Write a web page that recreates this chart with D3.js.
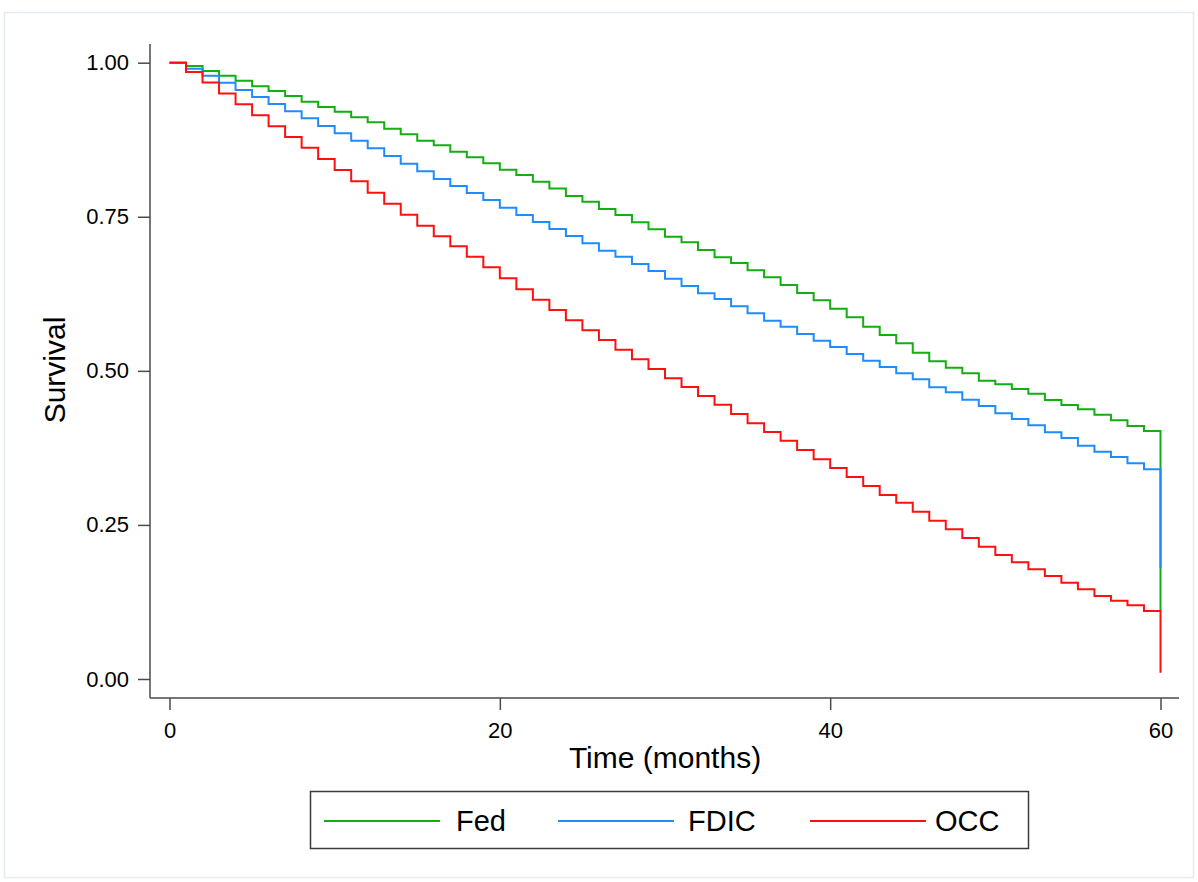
<!DOCTYPE html>
<html>
<head>
<meta charset="utf-8">
<script src="https://cdn.jsdelivr.net/npm/d3@7"></script>
<style>
  html, body { margin: 0; padding: 0; background: #ffffff; }
  svg { display: block; font-family: "Liberation Sans", Arial, sans-serif; }
</style>
</head>
<body>
<svg id="chart" width="1198" height="882"></svg>
<script>
// Kaplan-Meier survival estimates by regulator, one value per month (0..60)
const months = d3.range(0, 61);

const fedSurvival = [
  1.0, 0.9946, 0.9865, 0.979, 0.9708, 0.9617, 0.954, 0.946, 0.9367, 0.928,
  0.9205, 0.9114, 0.9033, 0.893, 0.8838, 0.8735, 0.866, 0.8556, 0.8465, 0.8368,
  0.8264, 0.8178, 0.807, 0.796, 0.7837, 0.7745, 0.7626, 0.7529, 0.741, 0.7297,
  0.7177, 0.7086, 0.6961, 0.6842, 0.675, 0.6631, 0.6518, 0.6393, 0.6263, 0.6144,
  0.6008, 0.5868, 0.5717, 0.558, 0.5447, 0.5295, 0.5155, 0.5051, 0.496, 0.484,
  0.4782, 0.4705, 0.463, 0.4527, 0.4446, 0.4376, 0.4289, 0.4198, 0.4105, 0.4024,
  0.11
];

const fdicSurvival = [
  1.0, 0.9903, 0.979, 0.9676, 0.9557, 0.9443, 0.933, 0.9211, 0.9098, 0.8973,
  0.8854, 0.8735, 0.861, 0.8486, 0.8361, 0.8238, 0.8113, 0.80, 0.7886, 0.7772,
  0.7648, 0.7529, 0.7415, 0.7302, 0.7188, 0.707, 0.695, 0.6852, 0.6732, 0.662,
  0.6495, 0.6377, 0.6258, 0.6166, 0.6047, 0.5934, 0.5814, 0.5717, 0.5598, 0.549,
  0.5387, 0.5274, 0.5165, 0.5063, 0.496, 0.4863, 0.4733, 0.4652, 0.4532, 0.443,
  0.4311, 0.4219, 0.4116, 0.4003, 0.391, 0.3786, 0.3688, 0.3602, 0.35, 0.3403,
  0.18
];

const occSurvival = [
  1.0, 0.985, 0.968, 0.950, 0.9325, 0.9146, 0.897, 0.8794, 0.862, 0.8437,
  0.826, 0.8076, 0.789, 0.771, 0.7534, 0.7355, 0.7183, 0.7021, 0.6852, 0.668,
  0.6502, 0.6323, 0.6155, 0.5987, 0.582, 0.5658, 0.55, 0.5343, 0.519, 0.503,
  0.4879, 0.4738, 0.4592, 0.4451, 0.43, 0.4149, 0.4008, 0.3867, 0.3716, 0.3565,
  0.3424, 0.3278, 0.313, 0.2986, 0.2861, 0.2715, 0.2569, 0.2429, 0.2288, 0.2147,
  0.2012, 0.1893, 0.178, 0.1671, 0.1563, 0.1455, 0.1347, 0.127, 0.1196, 0.1103,
  0.01
];

const seriesNames = ["Fed", "FDIC", "OCC"];
const seriesColors = ["#12ae12", "#1e8cff", "#ff1010"];
const xTicks = [0, 20, 40, 60];
const yTicks = [0, 0.25, 0.5, 0.75, 1.0];

const series = [fedSurvival, fdicSurvival, occSurvival].map((vals, i) => ({
  name: seriesNames[i],
  color: seriesColors[i],
  points: months.map((m, j) => ({ t: m, s: vals[j] }))
}));

const svg = d3.select("#chart");

// outer graph region frame
svg.append("rect")
  .attr("x", 4.5).attr("y", 12.5)
  .attr("width", 1189).attr("height", 865)
  .attr("fill", "#ffffff")
  .attr("stroke", "#e3ebee").attr("stroke-width", 1.5);

// plot region bounds (axis lines) and the scales inside them
const plot = { left: 150, right: 1179, top: 44, bottom: 698 };
const x = d3.scaleLinear().domain([0, 60]).range([169.5, 1160.5]);
const y = d3.scaleLinear().domain([0, 1]).range([679, 62.7]);

const axisColor = "#4a4a4a";
const fontStack = '"Liberation Sans", Arial, sans-serif';

// y axis
const gy = svg.append("g")
  .attr("transform", `translate(${plot.left},0)`)
  .call(d3.axisLeft(y).tickValues(yTicks).tickFormat(d3.format(".2f"))
    .tickSize(12).tickPadding(9));
gy.select(".domain").remove();
gy.selectAll(".tick line").attr("stroke", axisColor).attr("stroke-width", 1.5);
gy.selectAll(".tick text")
  .attr("fill", "#000").style("font-size", "22px")
  .style("font-family", fontStack);

// x axis
const gx = svg.append("g")
  .attr("transform", `translate(0,${plot.bottom})`)
  .call(d3.axisBottom(x).tickValues(xTicks).tickFormat(d3.format("d"))
    .tickSize(12).tickPadding(12));
gx.select(".domain").remove();
gx.selectAll(".tick line").attr("stroke", axisColor).attr("stroke-width", 1.5);
gx.selectAll(".tick text")
  .attr("fill", "#000").style("font-size", "22px")
  .style("font-family", fontStack);

// axis lines
svg.append("line")
  .attr("x1", plot.left).attr("x2", plot.left)
  .attr("y1", plot.top).attr("y2", plot.bottom)
  .attr("stroke", axisColor).attr("stroke-width", 1.5);
svg.append("line")
  .attr("x1", plot.left).attr("x2", plot.right)
  .attr("y1", plot.bottom).attr("y2", plot.bottom)
  .attr("stroke", axisColor).attr("stroke-width", 1.5);

// survival step curves
const line = d3.line()
  .x(d => x(d.t))
  .y(d => y(d.s))
  .curve(d3.curveStepAfter);

svg.append("g").selectAll("path")
  .data(series)
  .join("path")
  .attr("d", d => line(d.points))
  .attr("fill", "none")
  .attr("stroke", d => d.color)
  .attr("stroke-width", 2);

// axis titles
svg.append("text")
  .attr("x", 665).attr("y", 768)
  .attr("text-anchor", "middle")
  .style("font-size", "30px")
  .text("Time (months)");

svg.append("text")
  .attr("transform", "translate(65,370) rotate(-90)")
  .attr("text-anchor", "middle")
  .style("font-size", "30px")
  .text("Survival");

// legend
const legend = svg.append("g");
legend.append("rect")
  .attr("x", 310.5).attr("y", 791.5)
  .attr("width", 718).attr("height", 57)
  .attr("fill", "#ffffff")
  .attr("stroke", "#3a3a3a").attr("stroke-width", 1.5);

const legendLineX = [324, 558, 810];
const legendTextX = [456, 688, 935];
series.forEach((s, i) => {
  legend.append("line")
    .attr("x1", legendLineX[i]).attr("x2", legendLineX[i] + 116)
    .attr("y1", 821).attr("y2", 821)
    .attr("stroke", s.color).attr("stroke-width", 2);
  legend.append("text")
    .attr("x", legendTextX[i]).attr("y", 831)
    .style("font-size", "29px")
    .text(s.name);
});
</script>
</body>
</html>
